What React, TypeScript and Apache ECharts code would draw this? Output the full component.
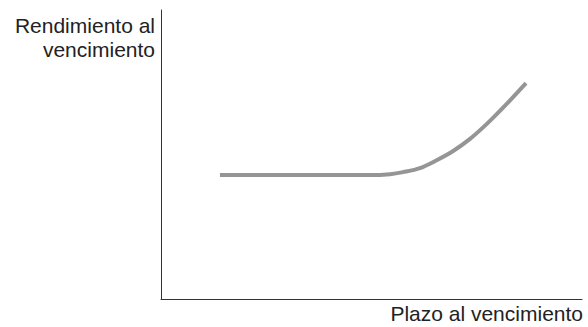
import React, { useEffect, useRef } from "react";
import * as echarts from "echarts";

// Curve (arbitrary units: x 0..100 = plazo, y 0..100 = rendimiento)
const plazo = [14.0, 23.5, 33.0, 42.5, 49.6, 54.4, 57.5, 61.5, 65.6, 69.4, 73.4, 77.4, 81.2, 86.7];
const rendimiento = [42.9, 42.9, 42.9, 42.9, 42.9, 43.2, 43.9, 45.3, 48.1, 51.2, 55.4, 60.6, 66.1, 74.7];
const yTitle = ["Rendimiento al", "vencimiento"];
const xTitle = "Plazo al vencimiento";

export default function App() {
  const ref = useRef<HTMLDivElement>(null);
  useEffect(() => {
    if (!ref.current) return;
    const chart = echarts.init(ref.current, null, { renderer: "svg" });
    const font = "Liberation Sans, Arial, Helvetica, sans-serif";
    const textStyle = (text: string) => ({
      text,
      font: `21px ${font}`,
      fill: "#222",
      align: "right",
    });
    chart.setOption({
      animation: false,
      grid: { left: 161, top: 10, right: 6, bottom: 28 },
      xAxis: {
        type: "value",
        min: 0,
        max: 100,
        axisLine: { show: true, onZero: false, lineStyle: { color: "#333", width: 1 } },
        axisTick: { show: false },
        axisLabel: { show: false },
        splitLine: { show: false },
      },
      yAxis: {
        type: "value",
        min: 0,
        max: 100,
        axisLine: { show: true, onZero: false, lineStyle: { color: "#333", width: 1 } },
        axisTick: { show: false },
        axisLabel: { show: false },
        splitLine: { show: false },
      },
      series: [
        {
          type: "line",
          data: plazo.map((x, i) => [x, rendimiento[i]]),
          smooth: 0.35,
          showSymbol: false,
          lineStyle: { color: "#959595", width: 4, cap: "butt" },
        },
      ],
      graphic: [
        { type: "text", right: 588 - 155, top: 15, style: textStyle(yTitle[0]) },
        { type: "text", right: 588 - 155, top: 39, style: textStyle(yTitle[1]) },
        { type: "text", right: 5, top: 303, style: textStyle(xTitle) },
      ],
    });
    return () => chart.dispose();
  }, []);
  return <div ref={ref} style={{ width: 588, height: 327, position: "absolute", left: 0, top: 0 }} />;
}
